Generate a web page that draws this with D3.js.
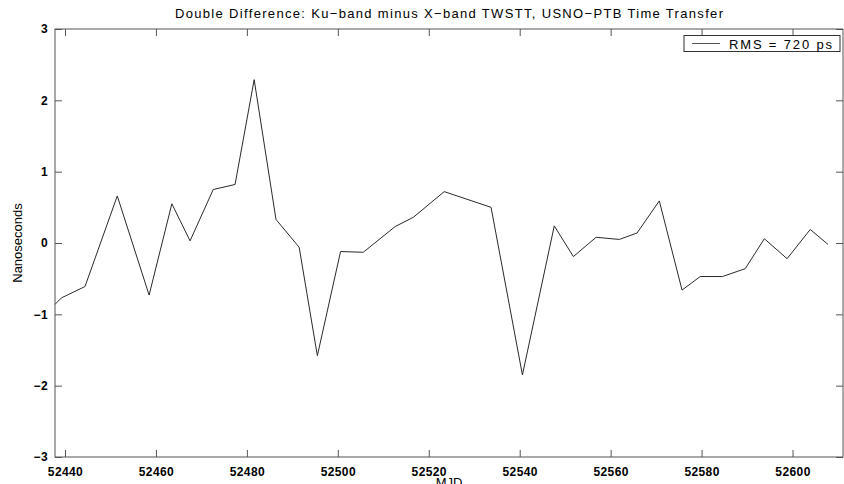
<!DOCTYPE html>
<html>
<head>
<meta charset="utf-8">
<script src="https://cdn.jsdelivr.net/npm/d3@7"></script>
<style>
  html, body { margin: 0; padding: 0; background: #fff; }
  svg { display: block; }
  text { font-family: "Liberation Sans", Arial, Helvetica, sans-serif; fill: #000; }
</style>
</head>
<body>
<svg id="chart" width="844" height="484"></svg>
<script>
// ---- data ----
const mjd = [52437.8, 52439.2, 52444.4, 52451.5, 52458.5, 52463.5, 52467.5, 52472.6, 52477.4, 52481.6,
             52486.4, 52491.5, 52495.5, 52500.6, 52505.6, 52512.6, 52516.6, 52523.4, 52529.5, 52533.7,
             52540.6, 52547.6, 52551.8, 52556.8, 52561.9, 52565.8, 52570.7, 52575.7, 52579.7, 52584.6,
             52589.6, 52593.8, 52598.8, 52603.9, 52607.8];
const ns  = [-0.86, -0.77, -0.61, 0.66, -0.73, 0.55, 0.03, 0.75, 0.82, 2.29,
             0.33, -0.06, -1.58, -0.12, -0.13, 0.23, 0.36, 0.72, 0.59, 0.50,
             -1.85, 0.24, -0.19, 0.08, 0.05, 0.14, 0.59, -0.66, -0.47, -0.47,
             -0.36, 0.06, -0.22, 0.19, -0.02];
const xTicks = [52440, 52460, 52480, 52500, 52520, 52540, 52560, 52580, 52600];
const yTicks = [-3, -2, -1, 0, 1, 2, 3];
const xDomain = [52437.8, 52611.1];
const yDomain = [-3, 3];
const titleText = "Double Difference: Ku\u2212band minus X\u2212band TWSTT, USNO\u2212PTB Time Transfer";
const xLabel = "MJD";
const yLabel = "Nanoseconds";
const legendText = "RMS = 720 ps";

// ---- layout ----
const svg = d3.select("#chart");
const L = 55, R = 843, T = 29, B = 457;
const x = d3.scaleLinear().domain(xDomain).range([L, R]);
const y = d3.scaleLinear().domain(yDomain).range([B, T]);
const axisColor = "#555";
const tickLen = 7;
const fmt = d => (d < 0 ? "\u2212" + Math.abs(d) : String(d));

// data line
const line = d3.line().x((d, i) => x(mjd[i])).y((d, i) => y(ns[i]));
svg.append("path")
  .datum(ns)
  .attr("d", line)
  .attr("fill", "none")
  .attr("stroke", "#2a2a2a")
  .attr("stroke-width", 1);

// axes (ticks inward, on all four sides)
const gBottom = svg.append("g").attr("transform", `translate(0,${B})`)
  .call(d3.axisBottom(x).tickValues(xTicks).tickSizeInner(-tickLen).tickSizeOuter(0).tickPadding(tickLen + 3).tickFormat(d3.format("d")));
const gTop = svg.append("g").attr("transform", `translate(0,${T})`)
  .call(d3.axisTop(x).tickValues(xTicks).tickSizeInner(-tickLen).tickSizeOuter(0).tickFormat(""));
const gLeft = svg.append("g").attr("transform", `translate(${L},0)`)
  .call(d3.axisLeft(y).tickValues(yTicks).tickSizeInner(-tickLen).tickSizeOuter(0).tickPadding(7).tickFormat(fmt));
const gRight = svg.append("g").attr("transform", `translate(${R},0)`)
  .call(d3.axisRight(y).tickValues(yTicks).tickSizeInner(-tickLen).tickSizeOuter(0).tickFormat(""));

[gBottom, gTop, gLeft, gRight].forEach(g => {
  g.select(".domain").remove();
  g.selectAll(".tick line").attr("stroke", axisColor);
  g.selectAll(".tick text")
    .style("font-size", "12px")
    .style("font-weight", "bold")
    .style("letter-spacing", "0.4px")
    .attr("fill", "#000");
});
gBottom.selectAll(".tick text").attr("dy", "0.71em");

// axes box
svg.append("rect")
  .attr("x", L).attr("y", T).attr("width", R - L).attr("height", B - T)
  .attr("fill", "none").attr("stroke", axisColor).attr("stroke-width", 1);

// title
svg.append("text")
  .attr("x", (L + R) / 2).attr("y", 18)
  .attr("text-anchor", "middle")
  .attr("textLength", 548)
  .attr("lengthAdjust", "spacing")
  .style("font-size", "13px")
  .text(titleText);

// axis labels
svg.append("text")
  .attr("x", (L + R) / 2).attr("y", 487)
  .attr("text-anchor", "middle")
  .style("font-size", "13px")
  .text(xLabel);
svg.append("text")
  .attr("transform", `translate(22,${(T + B) / 2}) rotate(-90)`)
  .attr("text-anchor", "middle")
  .style("font-size", "13px")
  .text(yLabel);

// legend
const lg = svg.append("g");
lg.append("rect")
  .attr("x", 684).attr("y", 35.5).attr("width", 156).attr("height", 16)
  .attr("fill", "#fff").attr("stroke", "#333").attr("stroke-width", 1);
lg.append("line")
  .attr("x1", 692).attr("x2", 720).attr("y1", 43.5).attr("y2", 43.5)
  .attr("stroke", "#555").attr("stroke-width", 1);
lg.append("text")
  .attr("x", 729).attr("y", 48.5)
  .attr("textLength", 103)
  .attr("lengthAdjust", "spacing")
  .style("font-size", "13px")
  .text(legendText);
</script>
</body>
</html>
